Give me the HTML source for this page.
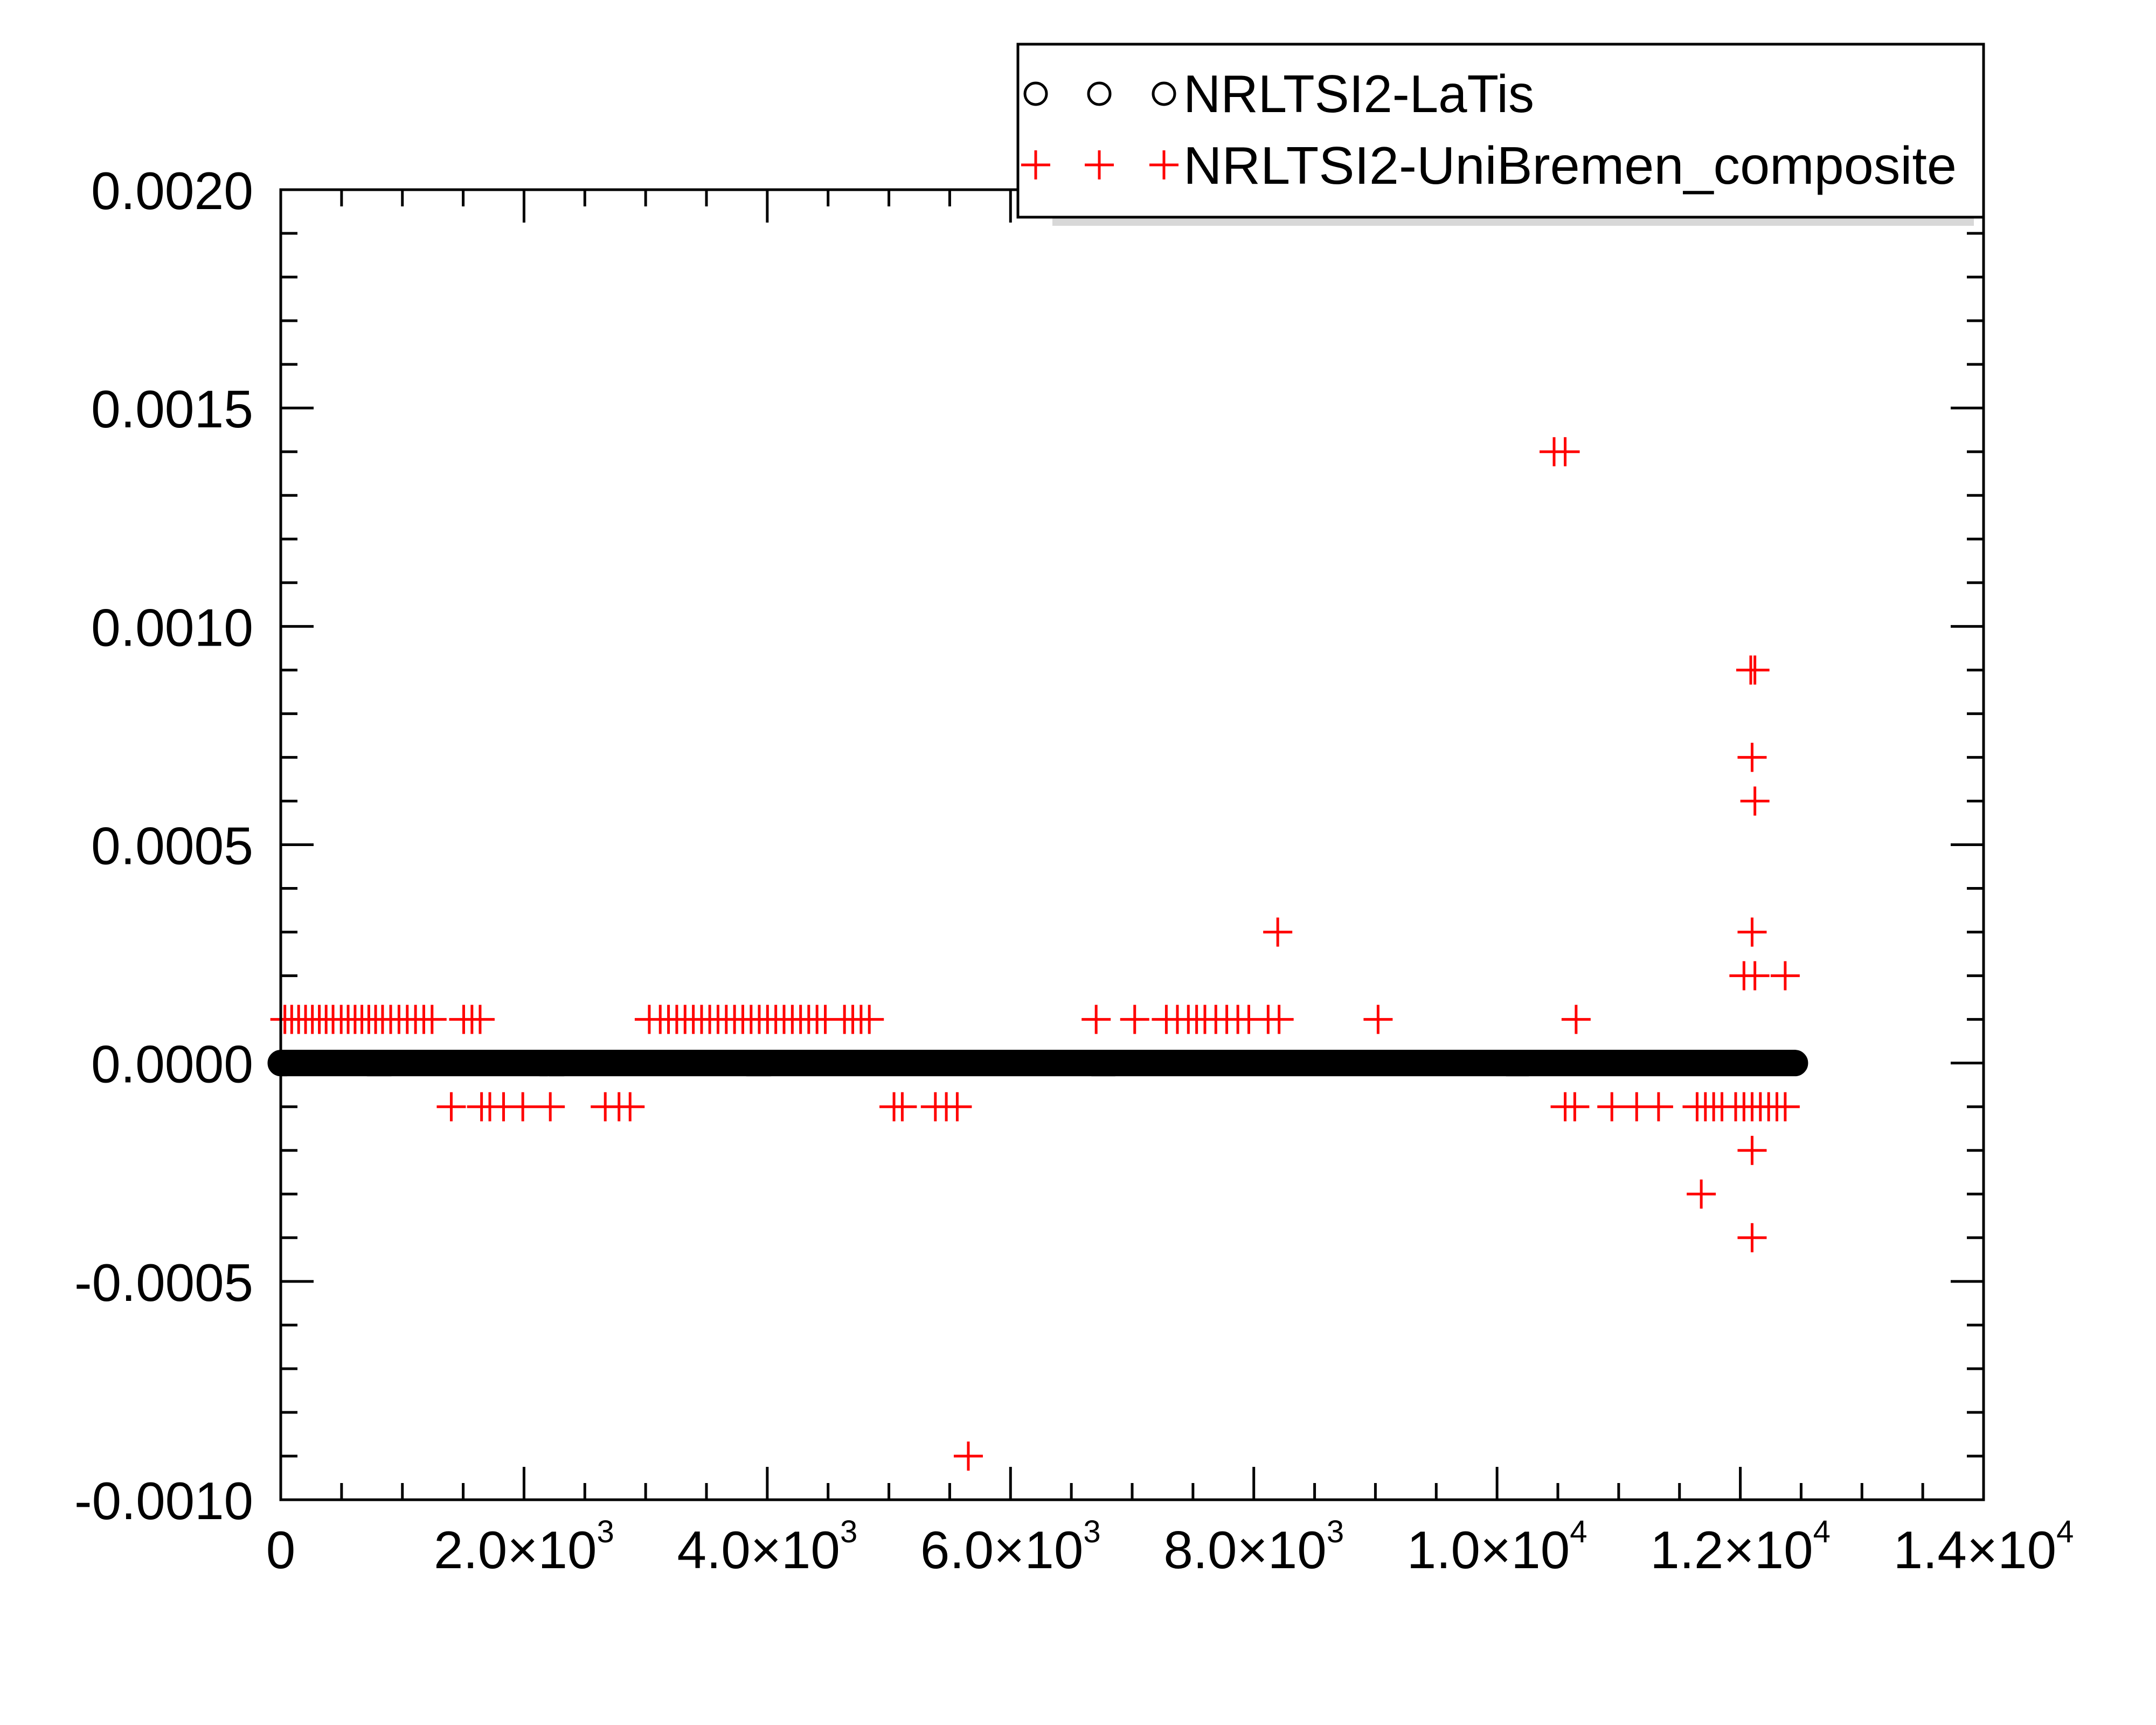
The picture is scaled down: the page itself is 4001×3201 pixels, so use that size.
<!DOCTYPE html>
<html><head><meta charset="utf-8"><style>
html,body{margin:0;padding:0;background:#fff;}
svg{display:block;font-family:"Liberation Sans",sans-serif;}
</style></head><body>
<svg id="chart" width="4001" height="3201" viewBox="0 0 4001 3201" xmlns="http://www.w3.org/2000/svg">
<rect x="0" y="0" width="4001" height="3201" fill="#fff"/>
<g id="plot"></g>
</svg>
<script>
const xTicks = [0, 2000, 4000, 6000, 8000, 10000, 12000, 14000];
const xTickMantissa = ["0", "2.0", "4.0", "6.0", "8.0", "1.0", "1.2", "1.4"];
const xTickExp = ["", "3", "3", "3", "3", "4", "4", "4"];
const yTicks = [-0.001, -0.0005, 0, 0.0005, 0.001, 0.0015, 0.002];
const yTickLabels = ["-0.0010", "-0.0005", "0.0000", "0.0005", "0.0010", "0.0015", "0.0020"];
const latisCount = 12450;
const latisValues = new Array(latisCount).fill(0);
const bremenX = [34,90,147,204,260,317,373,430,497,554,611,667,724,780,837,904,972,1040,1108,1176,1244,1504,1572,1639,
 3030,3120,3188,3256,3324,3392,3460,3527,3595,3663,3731,3799,3867,3934,4002,4070,4138,4206,4274,4341,4409,4477,4635,4703,4771,4839,
 6704,7021,7281,7372,7462,7530,7598,7688,7778,7869,7959,8118,8208,9022,10650,
 1402,1651,1719,1832,1990,2216,2668,2781,2872,5042,5110,5382,5472,5562,10560,10639,10944,11148,11328,
 11645,11713,11781,11849,11962,12030,12097,12165,12233,12301,12369,
 10469,10560,12086,12120,12097,12120,8197,12097,12030,12120,12369,12097,11679,12097,5653];
const bremenY = [0.0001,0.0001,0.0001,0.0001,0.0001,0.0001,0.0001,0.0001,0.0001,0.0001,0.0001,0.0001,0.0001,0.0001,0.0001,0.0001,0.0001,0.0001,0.0001,0.0001,0.0001,0.0001,0.0001,0.0001,
 0.0001,0.0001,0.0001,0.0001,0.0001,0.0001,0.0001,0.0001,0.0001,0.0001,0.0001,0.0001,0.0001,0.0001,0.0001,0.0001,0.0001,0.0001,0.0001,0.0001,0.0001,0.0001,0.0001,0.0001,0.0001,0.0001,
 0.0001,0.0001,0.0001,0.0001,0.0001,0.0001,0.0001,0.0001,0.0001,0.0001,0.0001,0.0001,0.0001,0.0001,0.0001,
 -0.0001,-0.0001,-0.0001,-0.0001,-0.0001,-0.0001,-0.0001,-0.0001,-0.0001,-0.0001,-0.0001,-0.0001,-0.0001,-0.0001,-0.0001,-0.0001,-0.0001,-0.0001,-0.0001,
 -0.0001,-0.0001,-0.0001,-0.0001,-0.0001,-0.0001,-0.0001,-0.0001,-0.0001,-0.0001,-0.0001,
 0.0014,0.0014,0.0009,0.0009,0.0007,0.0006,0.0003,0.0003,0.0002,0.0002,0.0002,-0.0002,-0.0003,-0.0004,-0.0009];

const NS = "http://www.w3.org/2000/svg";
const L = 521, R = 3681, T = 352, B = 2783;
const xMin = 0, xMax = 14000, yMin = -0.001, yMax = 0.002;
function sx(v){ return L + (v - xMin) / (xMax - xMin) * (R - L); }
function sy(v){ return B - (v - yMin) / (yMax - yMin) * (B - T); }
const g = document.getElementById('plot');
function mk(tag, attrs, parent){
  const e = document.createElementNS(NS, tag);
  for (const k in attrs) e.setAttribute(k, attrs[k]);
  (parent || g).appendChild(e);
  return e;
}

const tickG = mk('g', {stroke:'#000', 'stroke-width':5});


for (let v = 0; v <= 14000; v += 500) {
  const len = (v % 2000 === 0) ? 61 : 31;
  const x = sx(v);
  mk('line', {x1:x, x2:x, y1:B, y2:B-len}, tickG);
  mk('line', {x1:x, x2:x, y1:T, y2:T+len}, tickG);
}
for (let i = -10; i <= 20; i++) {
  const v = i * 0.0001;
  const len = (i % 5 === 0) ? 61 : 31;
  const y = sy(v);
  mk('line', {x1:L, x2:L+len, y1:y, y2:y}, tickG);
  mk('line', {x1:R, x2:R-len, y1:y, y2:y}, tickG);
}

yTicks.forEach((v, i) => {
  const w = yTickLabels[i].length === 7 ? 332 : 301;
  const t = mk('text', {x:470, y:sy(v)+36, 'font-size':98, 'text-anchor':'end', fill:'#000', textLength:w, lengthAdjust:'spacingAndGlyphs'});
  t.textContent = yTickLabels[i];
  
  
});
xTicks.forEach((v, i) => {
  const t = mk('text', {x:sx(v), y:2910, 'font-size':98, 'text-anchor':'middle', fill:'#000'});
  if (xTickExp[i]) {
    t.appendChild(document.createTextNode(xTickMantissa[i] + "\u00d710"));
    const s = document.createElementNS(NS, 'tspan');
    s.setAttribute('font-size', 58);
    s.setAttribute('dy', -48);
    s.textContent = xTickExp[i];
    t.appendChild(s);
  } else {
    t.textContent = xTickMantissa[i];
  }
  
  
});

const latisG = mk('g', {fill:'#fff', stroke:'#000', 'stroke-width':5});


let d = '';
latisValues.forEach((v, i) => {
  const x = sx(i), y = sy(v), r = 22;
  d += `M${x-r},${y}a${r},${r} 0 1,0 ${2*r},0a${r},${r} 0 1,0 ${-2*r},0`;
});
mk('path', {d:d}, latisG);

const bremG = mk('g', {stroke:'#f00', 'stroke-width':5});


let pd = '';
bremenX.forEach((xv, i) => {
  const x = sx(xv), y = sy(bremenY[i]), h = 27;
  pd += `M${x-h},${y}H${x+h}M${x},${y-h}V${y+h}`;
});
mk('path', {d:pd}, bremG);

const frame = mk('rect', {x:L, y:T, width:R-L, height:B-T, fill:'none', stroke:'#000', 'stroke-width':5});



const lg = mk('g', {});


mk('rect', {x:1953, y:403, width:1710, height:16, fill:'#d8d8d8'}, lg);
mk('rect', {x:1889, y:82, width:1792, height:321, fill:'#fff', stroke:'#000', 'stroke-width':5}, lg);
[1922, 2040, 2160].forEach(x => {
  const c = mk('circle', {cx:x, cy:174, r:20, fill:'none', stroke:'#000', 'stroke-width':5}, lg);
  
  
  const p = mk('path', {d:`M${x-27},306H${x+27}M${x},279V333`, stroke:'#f00', 'stroke-width':5}, lg);
  
  
});
const t1 = mk('text', {x:2196, y:208, 'font-size':98, fill:'#000', textLength:651, lengthAdjust:'spacingAndGlyphs'}, lg);
t1.textContent = 'NRLTSI2-LaTis';


const t2 = mk('text', {x:2196, y:341, 'font-size':98, fill:'#000', textLength:1435, lengthAdjust:'spacingAndGlyphs'}, lg);
t2.textContent = 'NRLTSI2-UniBremen_composite';


</script>
</body></html>
